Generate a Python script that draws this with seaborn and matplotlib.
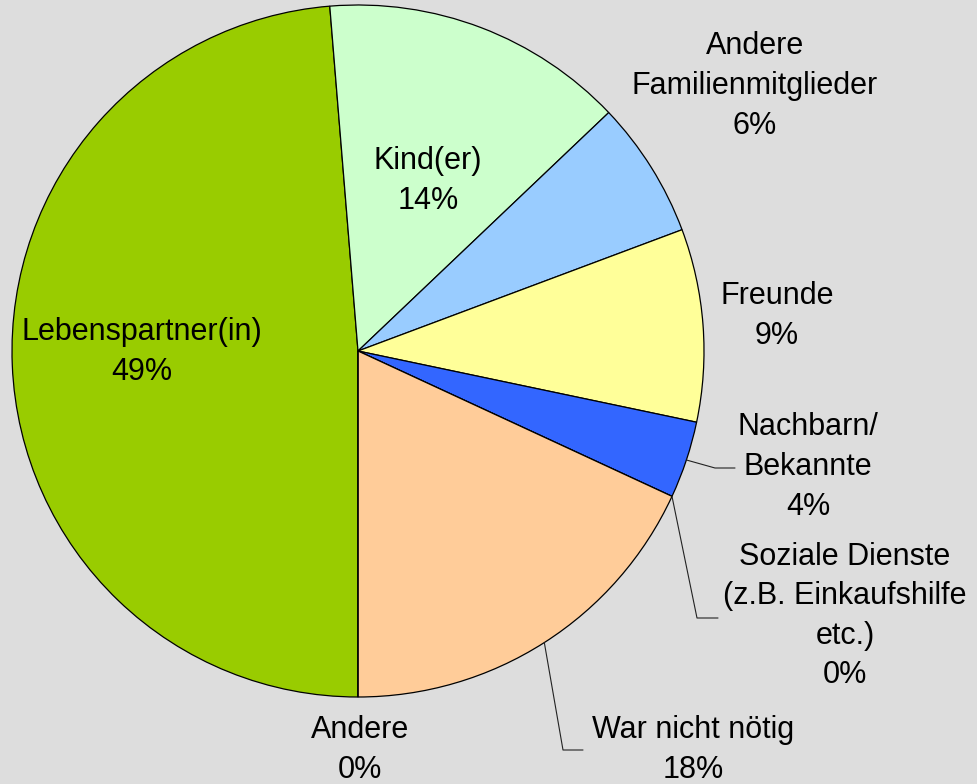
import numpy as np
import matplotlib
matplotlib.use("Agg")
import matplotlib.pyplot as plt
import seaborn as sns

# data (in drawing order from the bottom, clockwise)
categories = ["Lebenspartner(in)", "Kind(er)", "Andere\nFamilienmitglieder", "Freunde",
              "Nachbarn/\nBekannte", "Soziale Dienste\n(z.B. Einkaufshilfe\netc.)",
              "War nicht nötig", "Andere"]
shares = [48.7, 14.2, 6.4, 9.0, 3.6, 0.0, 18.1, 0.0]
pct_labels = ["49%", "14%", "6%", "9%", "4%", "0%", "18%", "0%"]
slice_colors = ["#99CC00", "#CCFFCC", "#99CCFF", "#FFFF99",
                "#3366FF", "#FF99CC", "#FFCC99", "#CC99FF"]

sns.set_theme(style="white")
plt.rcParams["font.family"] = ["Liberation Sans", "DejaVu Sans"]

W, H = 977, 784
fig = plt.figure(figsize=(W / 100, H / 100), dpi=100)
fig.patch.set_facecolor("#DDDDDD")
ax = fig.add_axes([0, 0, 1, 1])
ax.set_facecolor("#DDDDDD")

cx, cy, r = 358, H - 351, 346
wedges, _ = ax.pie(shares, colors=slice_colors, startangle=-90, counterclock=False,
                   center=(cx, cy), radius=r,
                   wedgeprops=dict(edgecolor="black", linewidth=0.9))
ax.set_xlim(0, W)
ax.set_ylim(0, H)
ax.set_aspect("equal")
ax.axis("off")

# label block centres (pixels from top-left)
label_pos = [(142, 352), (428, 181), (755, 86), (777, 316),
             (808, 467), (845, 616), (693, 750), (360, 750)]
# leader line: (elbow, end) in pixels, None = no line
leaders = [None, None, None, None,
           ((715, 468), (735, 468)),
           ((697, 618), (718, 618)),
           ((563, 750), (583, 750)),
           None]

for w, name, pct, (lx, ly), ld in zip(wedges, categories, pct_labels, label_pos, leaders):
    ax.text(lx, H - ly, f"{name}\n{pct}", ha="center", va="center",
            fontsize=22, linespacing=1.42, color="black")
    if ld is not None:
        mid = np.deg2rad((w.theta1 + w.theta2) / 2)
        sx, sy = cx + r * np.cos(mid), cy + r * np.sin(mid)
        (ex, ey), (fx, fy) = ld
        ax.plot([sx, ex, fx], [sy, H - ey, H - fy], color="#222222", lw=0.8)

fig.savefig("out.png", dpi=100, facecolor=fig.get_facecolor())
